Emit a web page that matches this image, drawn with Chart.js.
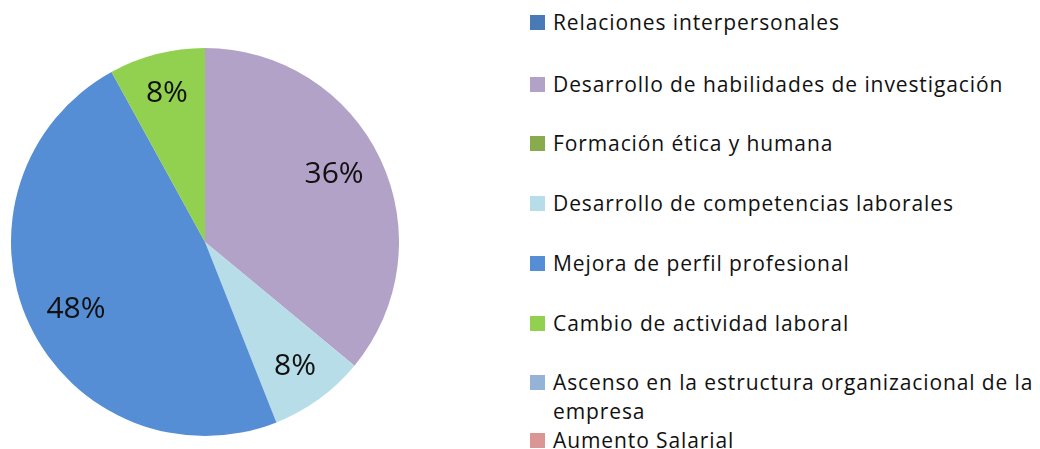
<!DOCTYPE html>
<html lang="es">
<head>
  <meta charset="UTF-8" />
  <title>Motivos</title>
  <script src="https://cdn.jsdelivr.net/npm/chart.js"></script>
  <style>
    html, body { margin: 0; padding: 0; background: #fff; }
    body { width: 1040px; height: 449px; position: relative; overflow: hidden; font-family: "Open Sans", sans-serif; color: #111; }
    #pieBox { position: absolute; left: 11px; top: 48px; width: 388px; height: 388px; }
    #leyenda { position: absolute; left: 530px; top: 0; width: 510px; }
    .item { position: absolute; left: 0; display: flex; align-items: flex-start; font-size: 21px; letter-spacing: 0.9px; line-height: 29px; }
    .item span.sq { width: 15px; height: 15px; flex: 0 0 15px; margin-top: 7px; margin-right: 8px; }
    .item span.tx { width: 490px; }
  </style>
</head>
<body>
  <div id="pieBox"><canvas id="grafico"></canvas></div>
  <div id="leyenda"></div>

  <script>
    const categorias = [
      "Relaciones interpersonales",
      "Desarrollo de habilidades de investigación",
      "Formación ética y humana",
      "Desarrollo de competencias laborales",
      "Mejora de perfil profesional",
      "Cambio de actividad laboral",
      "Ascenso en la estructura organizacional de la empresa",
      "Aumento Salarial"
    ];
    const porcentajes = [0, 36, 0, 8, 48, 8, 0, 0];
    const colores = ["#4A7AB5", "#B3A2C7", "#8AAA4E", "#B7DEE8", "#558ED5", "#92D050", "#95B3D7", "#D99694"];

    // leyenda a mano, como en Excel
    const leyenda = document.getElementById("leyenda");
    const topes = [8, 70, 129, 189, 249, 309, 368, 426];
    categorias.forEach((c, i) => {
      const d = document.createElement("div");
      d.className = "item";
      d.style.top = topes[i] + "px";
      d.innerHTML = `<span class="sq" style="background:${colores[i]}"></span><span class="tx">${c}</span>`;
      leyenda.appendChild(d);
    });

    const etiquetas = {
      id: "etiquetas",
      afterDatasetsDraw(chart) {
        const ctx = chart.ctx;
        const meta = chart.getDatasetMeta(0);
        ctx.save();
        ctx.font = "30px 'Open Sans', sans-serif";
        ctx.fillStyle = "#111";
        ctx.textAlign = "center";
        ctx.textBaseline = "middle";
        meta.data.forEach((arc, i) => {
          const v = porcentajes[i];
          if (!v) return;
          const p = arc.getProps(["x", "y", "startAngle", "endAngle", "outerRadius"], true);
          const a = (p.startAngle + p.endAngle) / 2 - (v > 30 ? 0.04 : 0);
          const r = p.outerRadius * (v > 30 ? 0.75 : 0.79);
          ctx.fillText(v + "%", p.x + Math.cos(a) * r, p.y + Math.sin(a) * r);
        });
        ctx.restore();
      }
    };

    new Chart(document.getElementById("grafico"), {
      type: "pie",
      data: {
        labels: categorias,
        datasets: [{ data: porcentajes, backgroundColor: colores, borderWidth: 0 }]
      },
      options: {
        responsive: true,
        maintainAspectRatio: false,
        animation: false,
        layout: { padding: 0 },
        plugins: { legend: { display: false }, tooltip: { enabled: false } }
      },
      plugins: [etiquetas]
    });
  </script>
</body>
</html>
